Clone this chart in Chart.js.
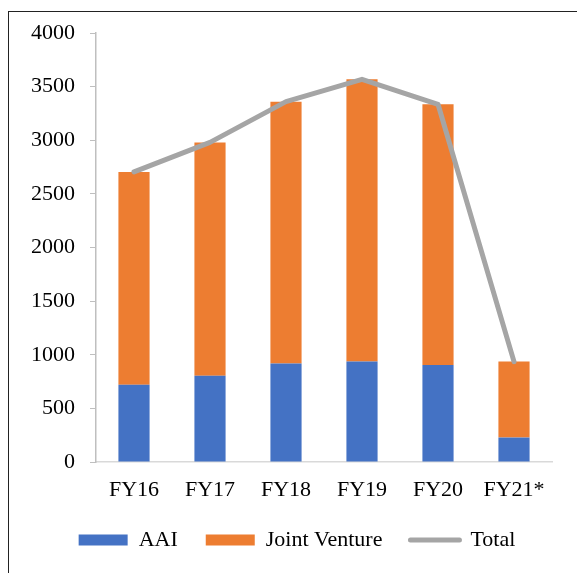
<!DOCTYPE html>
<html>
<head>
<meta charset="utf-8">
<script src="https://cdn.jsdelivr.net/npm/chart.js@4/dist/chart.umd.min.js"></script>
<style>
  html, body { margin: 0; padding: 0; background: #fff; overflow: hidden; }
  #wrap { position: relative; width: 577px; height: 573px; }
  #frame {
    position: absolute; left: 8px; top: 11px; width: 620px; height: 620px;
    border-left: 1.5px solid #222; border-top: 1.5px solid #222; pointer-events: none;
  }
  canvas { position: absolute; left: 0; top: 0; }
</style>
</head>
<body>
<div id="wrap">
  <canvas id="chart" width="577" height="573"></canvas>
  <div id="frame"></div>
</div>
<script>
// values
var years = ["FY16", "FY17", "FY18", "FY19", "FY20", "FY21*"];
var aai = [720, 805, 918, 936, 904, 228];
var jointVenture = [1985, 2175, 2442, 2632, 2431, 708];
var total = [2705, 2980, 3360, 3568, 3335, 936];

var serif = "'Liberation Serif', 'Times New Roman', serif";
Chart.defaults.font.family = serif;
Chart.defaults.color = "#000";

// narrow y axis box keeps the legend centred like the original, so widen its label clip again
var widenAxisClip = {
  id: "widenAxisClip",
  afterLayout: function(chart) { chart.scales.y.left = 0; }
};

var ctx = document.getElementById("chart").getContext("2d");
new Chart(ctx, {
  type: "bar",
  data: {
    labels: years,
    datasets: [
      {label: "AAI", data: aai, backgroundColor: "#4472C4", stack: "bars", order: 1},
      {label: "Joint Venture", data: jointVenture, backgroundColor: "#ED7D31", stack: "bars", order: 1},
      {label: "Total", type: "line", data: total, borderColor: "#A5A5A5", backgroundColor: "#A5A5A5",
       borderWidth: 5, pointRadius: 0, tension: 0, stack: "line", order: 0,
       borderJoinStyle: "round", borderCapStyle: "round"}
    ]
  },
  plugins: [widenAxisClip],
  options: {
    responsive: false,
    animation: false,
    layout: {padding: {left: 42, right: 25, top: 33, bottom: 12}},
    datasets: {bar: {categoryPercentage: 1, barPercentage: 0.41}},
    plugins: {
      tooltip: {enabled: false},
      legend: {
        position: "bottom",
        labels: {
          usePointStyle: true,
          pointStyleWidth: 49,
          boxHeight: 11,
          padding: 28,
          font: {size: 22, family: serif},
          generateLabels: function(chart) {
            return chart.data.datasets.map(function(ds, i) {
              var isLine = ds.type === "line";
              return {
                text: ds.label,
                fillStyle: ds.backgroundColor,
                strokeStyle: isLine ? ds.borderColor : ds.backgroundColor,
                lineWidth: isLine ? 5 : 0,
                lineCap: "round",
                pointStyle: isLine ? "line" : "rect",
                fontColor: "#000",
                datasetIndex: i
              };
            });
          }
        }
      }
    },
    scales: {
      x: {
        stacked: true,
        grid: {drawOnChartArea: false, drawTicks: false},
        border: {color: "#D9D9D9", width: 1.5},
        ticks: {padding: 15, font: {size: 22}},
        afterFit: function(scale) { scale.height = 39; }
      },
      y: {
        stacked: true,
        min: 0, max: 4000,
        ticks: {stepSize: 500, padding: 15, font: {size: 22},
                callback: function(v) { return String(v); }},
        grid: {drawOnChartArea: false, drawTicks: true, tickLength: 6, color: "#BFBFBF"},
        border: {color: "#BFBFBF", width: 1.5},
        afterFit: function(scale) { scale.width = 54; }
      }
    }
  }
});
</script>
</body>
</html>
